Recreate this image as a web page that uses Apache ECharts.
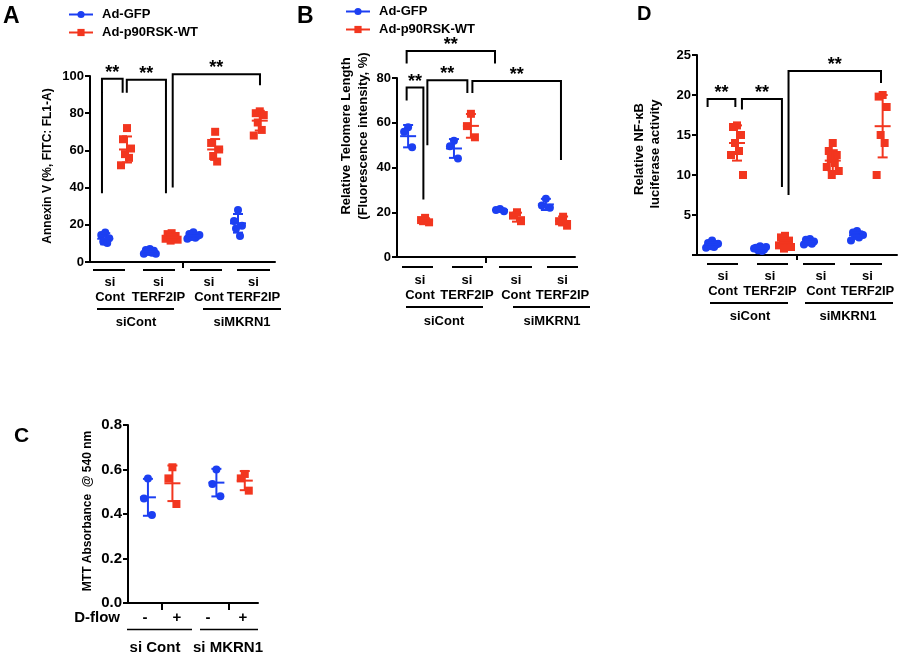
<!DOCTYPE html>
<html><head><meta charset="utf-8">
<script src="https://cdn.jsdelivr.net/npm/echarts@6/dist/echarts.min.js"></script>
<style>html,body{margin:0;padding:0;background:#fff}#c{width:900px;height:654px}</style>
</head><body><div id="c"></div>
<script>
const BLUE = '#1c3ff2', RED = '#f2361f';
const FONT = '"Liberation Sans", Arial, Helvetica, sans-serif';

// ---------- Panel A : Annexin V ----------
const A_GFP = [[15.8, 14.5, 12.8, 11, 10.2], [7, 6.5, 6, 5.5, 5, 4.5, 4.5, 5.5, 6], [16, 15, 14, 13.5, 13, 12.5, 14.5], [28, 22, 19.5, 18, 14]];
const A_RSK = [[72, 66, 61, 58, 56, 52], [15.5, 15, 14, 13.5, 13, 12.5, 12, 11.5, 13.5], [70, 64, 60.5, 57, 54], [81, 80, 79, 75, 71, 68]];
const A_GFP_MEAN = [12.5, 5.8, 14, 20.8];
const A_GFP_SD = [3, 1, 1.5, 5];
const A_RSK_MEAN = [60.5, 13.4, 60.5, 76];
const A_RSK_SD = [7, 1.5, 5.6, 5.3];
// bracket: [x1, x2, yTop, yLeftEnd, yRightEnd]
const A_BRACKETS = [[0.55, 1.5, 98.5, 37, 91], [1.69, 3.49, 98, 91, 37], [3.8, 7.81, 101, 40, 95]];

// ---------- Panel B : Telomere length ----------
const B_GFP = [[58, 56, 49], [52, 49.5, 44], [21.5, 21, 20.5], [26, 23, 22]];
const B_RSK = [[17.5, 16.5, 15.5, 16], [64, 58.5, 53.5], [20, 18.5, 16], [18, 16, 14]];
const B_GFP_MEAN = [54, 48.5, 21, 23.5];
const B_GFP_SD = [5, 4.2, 0.6, 2.5];
const B_RSK_MEAN = [16.3, 58.6, 17.8, 16.1];
const B_RSK_SD = [1, 5.3, 2, 2];
const B_BRACKETS = [[0.46, 4.68, 92.1, 86.5, 86.5], [0.46, 1.26, 75.7, 70, 25.7], [1.45, 3.36, 79, 50, 73.3], [3.6, 7.83, 78.7, 73.3, 43.3]];

// ---------- Panel D : NF-kB luciferase ----------
const D_GFP = [[1.8, 1.5, 1.3, 1.2, 1.0, 0.9, 1.4, 1.1], [1.1, 0.9, 0.7, 0.6, 0.5, 0.8, 1.0], [2.0, 1.9, 1.7, 1.6, 1.4, 1.3], [3.0, 2.8, 2.6, 2.4, 2.2, 1.8, 2.5]];
const D_RSK = [[16.2, 16, 15, 14, 13, 12.5, 10], [2.4, 2.2, 1.8, 1.6, 1.4, 1.2, 1.0, 0.8], [14, 13, 12.5, 12, 11.5, 11, 10.5, 10], [20, 19.8, 18.5, 15, 14, 10]];
const D_GFP_MEAN = [1.3, 0.8, 1.65, 2.45];
const D_GFP_SD = [0.3, 0.2, 0.25, 0.4];
const D_RSK_MEAN = [14.0, 1.55, 11.8, 16.1];
const D_RSK_SD = [2.2, 0.55, 1.3, 3.9];
const D_BRACKETS = [[0.45, 1.63, 19.5, 18.5, 18.5], [1.91, 3.61, 19.5, 18.2, 8.5], [3.89, 7.82, 23.0, 7.5, 21.5]];

// ---------- Panel C : MTT ----------
const C_GFP = [[0.56, 0.47, 0.395], [0.60, 0.535, 0.48]];
const C_RSK = [[0.61, 0.56, 0.445], [0.58, 0.56, 0.505]];
const C_GFP_MEAN = [0.475, 0.541];
const C_GFP_SD = [0.083, 0.062];
const C_RSK_MEAN = [0.538, 0.55];
const C_RSK_SD = [0.08, 0.043];

// ---------- labels ----------
const CAT_LABELS = ['si\nCont', 'si\nTERF2IP', 'si\nCont', 'si\nTERF2IP'];
const GROUP_LABELS = ['siCont', 'siMKRN1'];
const C_FLOW = ['-', '+', '-', '+'];
const C_GROUPS = ['si Cont', 'si MKRN1'];
const LEGEND = ['Ad-GFP', 'Ad-p90RSK-WT'];

// ---------- layout ----------
const A_X = [0.7, 1.7, 2.75, 3.75, 4.75, 5.75, 6.8, 7.8];
const B_X = [0.53, 1.34, 2.72, 3.53, 4.92, 5.73, 7.11, 7.93];
const D_X = [0.64, 1.70, 2.68, 3.74, 4.80, 5.77, 6.80, 7.89];
const C_X = [0.92, 2.05, 4.08, 5.39];
const JIT_PX = [0, -4, 4, -2, 2, -6, 6, -1, 1.5];

const grids = [
  {left: 90, top: 76, width: 185, height: 186},
  {left: 397, top: 78, width: 178, height: 179},
  {left: 697, top: 55, width: 200, height: 200},
  {left: 128, top: 425, width: 130, height: 178}
];
const XMAX = [8.5, 8.5, 8.5, 6];

function pts(groups, xs, offset, step, gi) {
  const pxu = grids[gi].width / XMAX[gi];
  const out = [];
  groups.forEach((g, i) => {
    g.forEach((v, j) => out.push([xs[i * step + offset] + JIT_PX[j % JIT_PX.length] / pxu, v]));
  });
  return out;
}
function errs(means, sds, xs, offset, step) {
  return means.map((m, i) => [xs[i * step + offset], m, sds[i]]);
}
function errRender(color) {
  return function (params, api) {
    const x = api.value(0), m = api.value(1), s = api.value(2);
    const t = api.coord([x, m + s]), b = api.coord([x, m - s]), c = api.coord([x, m]);
    const st = {stroke: color, lineWidth: 2};
    return {type: 'group', children: [
      {type: 'line', shape: {x1: t[0], y1: t[1], x2: b[0], y2: b[1]}, style: st},
      {type: 'line', shape: {x1: t[0] - 5, y1: t[1], x2: t[0] + 5, y2: t[1]}, style: st},
      {type: 'line', shape: {x1: b[0] - 5, y1: b[1], x2: b[0] + 5, y2: b[1]}, style: st},
      {type: 'line', shape: {x1: c[0] - 8, y1: c[1], x2: c[0] + 8, y2: c[1]}, style: st}
    ]};
  };
}
function bracketRender(params, api) {
  const x1 = api.value(0), x2 = api.value(1), yt = api.value(2), yl = api.value(3), yr = api.value(4);
  const lt = api.coord([x1, yt]), rt = api.coord([x2, yt]), lb = api.coord([x1, yl]), rb = api.coord([x2, yr]);
  return {type: 'group', children: [
    {type: 'polyline', shape: {points: [lb, lt, rt, rb]}, style: {stroke: '#000', lineWidth: 2, fill: 'none'}},
    {type: 'text', x: (lt[0] + rt[0]) / 2, y: lt[1] + 3,
     style: {text: '**', font: 'bold 18px ' + FONT, textAlign: 'center', textVerticalAlign: 'bottom', align: 'center', verticalAlign: 'bottom', fill: '#000'}}
  ]};
}

function yAx(gi, min, max, interval, fontSize, fmt) {
  return {type: 'value', gridIndex: gi, min, max, interval,
    axisLine: {show: true, lineStyle: {color: '#000', width: 2}},
    axisTick: {show: true, length: 5, lineStyle: {color: '#000', width: 2}},
    axisLabel: {color: '#000', fontWeight: 'bold', fontSize, fontFamily: FONT, margin: 6, formatter: fmt},
    splitLine: {show: false}};
}
function xAx(gi) {
  return {type: 'value', gridIndex: gi, min: 0, max: XMAX[gi],
    axisLine: {show: true, onZero: false, lineStyle: {color: '#000', width: 2}},
    axisTick: {show: false}, axisLabel: {show: false}, splitLine: {show: false}};
}

const series = [];
function panel(gi, gfp, rsk, gm, gs, rm, rs, xs, brackets, sym) {
  series.push({type: 'scatter', name: 'gfp' + gi, xAxisIndex: gi, yAxisIndex: gi, data: pts(gfp, xs, 0, 2, gi),
    symbol: 'circle', symbolSize: sym, itemStyle: {color: BLUE, opacity: 1}, z: 2});
  series.push({type: 'scatter', name: 'rsk' + gi, xAxisIndex: gi, yAxisIndex: gi, data: pts(rsk, xs, 1, 2, gi),
    symbol: 'rect', symbolSize: sym, itemStyle: {color: RED, opacity: 1}, z: 2});
  series.push({type: 'custom', name: 'egfp' + gi, xAxisIndex: gi, yAxisIndex: gi, data: errs(gm, gs, xs, 0, 2),
    renderItem: errRender(BLUE), clip: false, z: 3});
  series.push({type: 'custom', name: 'ersk' + gi, xAxisIndex: gi, yAxisIndex: gi, data: errs(rm, rs, xs, 1, 2),
    renderItem: errRender(RED), clip: false, z: 3});
  if (brackets) series.push({type: 'custom', name: 'br' + gi, xAxisIndex: gi, yAxisIndex: gi, data: brackets,
    encode: {x: [0, 1], y: [2, 3, 4]}, renderItem: bracketRender, clip: false, z: 4});
}
panel(0, A_GFP, A_RSK, A_GFP_MEAN, A_GFP_SD, A_RSK_MEAN, A_RSK_SD, A_X, A_BRACKETS, 8);
panel(1, B_GFP, B_RSK, B_GFP_MEAN, B_GFP_SD, B_RSK_MEAN, B_RSK_SD, B_X, B_BRACKETS, 8);
panel(2, D_GFP, D_RSK, D_GFP_MEAN, D_GFP_SD, D_RSK_MEAN, D_RSK_SD, D_X, D_BRACKETS, 8);
panel(3, C_GFP, C_RSK, C_GFP_MEAN, C_GFP_SD, C_RSK_MEAN, C_RSK_SD, C_X, null, 8);
// legend carriers
series.push({type: 'line', name: LEGEND[0], xAxisIndex: 0, yAxisIndex: 0, data: [], symbol: 'circle', symbolSize: 8,
  itemStyle: {color: BLUE}, lineStyle: {color: BLUE, width: 3}});
series.push({type: 'line', name: LEGEND[1], xAxisIndex: 0, yAxisIndex: 0, data: [], symbol: 'rect', symbolSize: 8,
  itemStyle: {color: RED}, lineStyle: {color: RED, width: 3}});

// ---------- graphic annotations ----------
const g = [];
function txt(text, x, y, size, opts) {
  g.push(Object.assign({type: 'text', x, y, style: {text, font: 'bold ' + size + 'px ' + FONT, fill: '#000',
    textAlign: 'center', textVerticalAlign: 'middle', align: 'center', verticalAlign: 'middle', lineHeight: size + 2}}, opts || {}));
}
function ln(x1, y1, x2, y2, w) {
  g.push({type: 'line', shape: {x1, y1, x2, y2}, style: {stroke: '#000', lineWidth: w || 2}});
}
function rtxt(text, x, y, size) {
  g.push({type: 'text', x, y, rotation: Math.PI / 2, style: {text, font: 'bold ' + size + 'px ' + FONT, fill: '#000',
    textAlign: 'center', textVerticalAlign: 'middle', align: 'center', verticalAlign: 'middle'}});
}
function ltxt(text, x, y, size) {
  g.push({type: 'text', x, y, style: {text, font: 'bold ' + size + 'px ' + FONT, fill: '#000',
    textAlign: 'left', textVerticalAlign: 'middle', align: 'left', verticalAlign: 'middle'}});
}
// panel letters
ltxt('A', 3, 17, 23); ltxt('B', 297, 17, 23); ltxt('D', 637, 14, 20); ltxt('C', 14, 436, 21);
// y titles
rtxt('Annexin V (%, FITC: FL1-A)', 48, 166, 12);
rtxt('Relative Telomere Length', 346, 136, 13);
rtxt('(Fluorescence intensity, %)', 363, 136, 13);
rtxt('Relative NF-\u03baB', 639, 149, 13);
rtxt('luciferase activity', 655, 154, 13);
rtxt('MTT Absorbance  @ 540 nm', 88, 511, 12);
// category rows for A, B, D
function catRow(under, centers, underY, textY, groupLines, groupY, groupCenters, groupTextY, lh) {
  under.forEach(u => ln(u[0], underY, u[1], underY));
  CAT_LABELS.forEach((t, i) => {
    g.push({type: 'text', x: centers[i], y: textY, style: {text: t, font: 'bold 13px ' + FONT, fill: '#000',
      textAlign: 'center', textVerticalAlign: 'middle', align: 'center', verticalAlign: 'middle', lineHeight: lh}});
  });
  groupLines.forEach(u => ln(u[0], groupY, u[1], groupY));
  GROUP_LABELS.forEach((t, i) => txt(t, groupCenters[i], groupTextY, 13));
}
catRow([[93, 125], [143, 175], [190, 222], [237, 270]], [110, 158.5, 209, 253.5], 270, 289.5,
  [[97, 174], [203, 281]], 309, [136, 242], 322, 15);
catRow([[402, 433], [452, 483], [499, 532], [547, 578]], [420, 467, 516, 562.5], 267, 287.5,
  [[406, 483], [513, 590]], 307, [444, 552], 321, 15);
catRow([[707, 738], [757, 788], [803, 835], [850, 882]], [723, 770, 821, 867.5], 264, 284,
  [[710, 788], [805, 893]], 303, [750, 848], 316, 14.5);
// mid ticks on x axes
ln(183, 262, 183, 268); ln(486, 257, 486, 263); ln(797, 255, 797, 260);
// panel C
ln(162, 603, 162, 610); ln(229, 603, 229, 610);
g.push({type: 'text', x: 120, y: 618, style: {text: 'D-flow', font: 'bold 15px ' + FONT, fill: '#000',
  textAlign: 'right', textVerticalAlign: 'middle', align: 'right', verticalAlign: 'middle'}});
[145, 177, 208, 243].forEach((x, i) => txt(C_FLOW[i], x, 618, 15));
ln(127, 629.5, 192, 629.5, 1.5); ln(200, 629.5, 258, 629.5, 1.5);
txt(C_GROUPS[0], 155, 648, 15); txt(C_GROUPS[1], 228, 648, 15);

const legendBase = {data: LEGEND, orient: 'vertical', itemWidth: 24, itemHeight: 9, itemGap: 5,
  textStyle: {color: '#000', fontWeight: 'bold', fontSize: 13, fontFamily: FONT, padding: [0, 0, 0, 4]}, selectedMode: false};

const option = {
  animation: false,
  backgroundColor: '#fff',
  grid: grids,
  xAxis: [xAx(0), xAx(1), xAx(2), xAx(3)],
  yAxis: [
    yAx(0, 0, 100, 20, 13),
    yAx(1, 0, 80, 20, 13),
    yAx(2, 0, 25, 5, 13, v => v === 0 ? '' : String(v)),
    yAx(3, 0, 0.8, 0.2, 15, v => v.toFixed(1))
  ],
  legend: [
    Object.assign({left: 63, top: 3}, legendBase),
    Object.assign({left: 340, top: 0}, legendBase)
  ],
  series,
  graphic: g
};
const chart = echarts.init(document.getElementById('c'), null, {renderer: 'canvas'});
chart.setOption(option);
</script>
</body></html>
